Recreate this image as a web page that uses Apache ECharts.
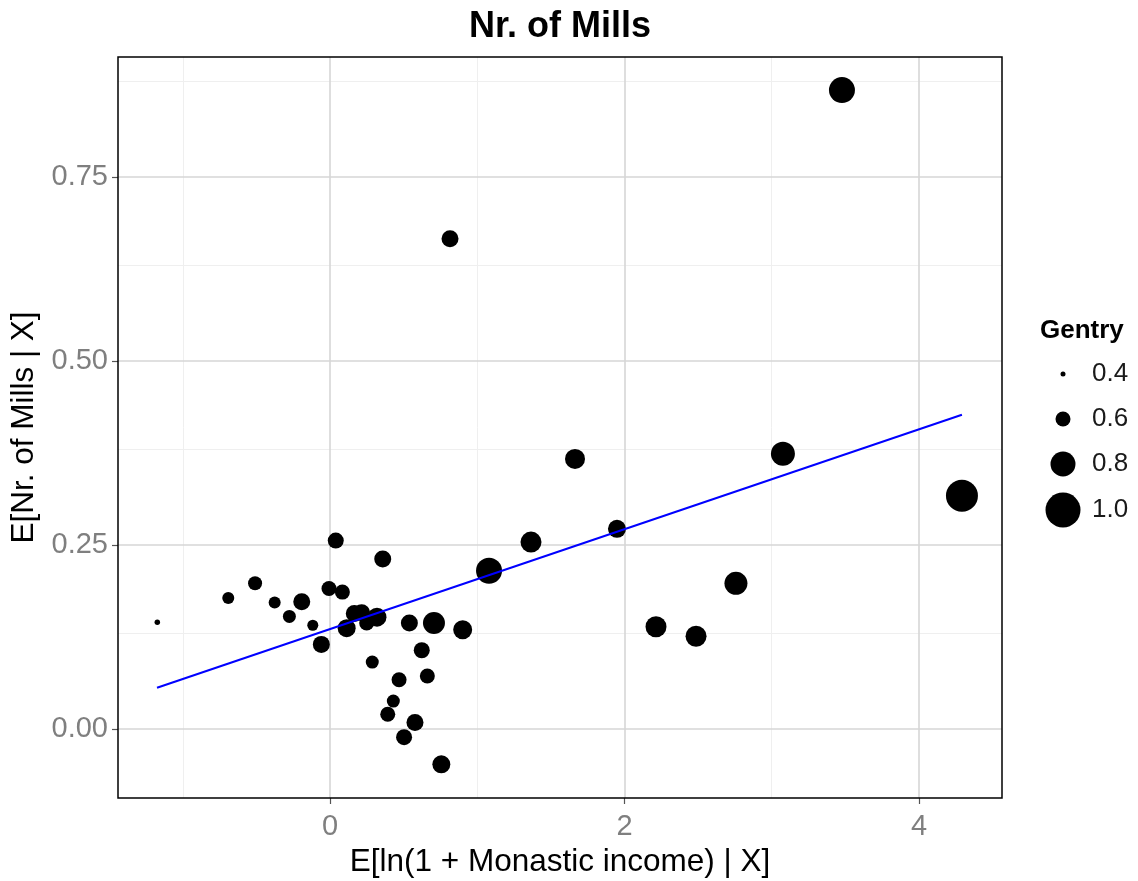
<!DOCTYPE html>
<html>
<head>
<meta charset="utf-8">
<script src="https://cdn.jsdelivr.net/npm/echarts@6/dist/echarts.min.js"></script>
<style>html,body{margin:0;padding:0;background:#fff;}#c{width:1138px;height:881px;}</style>
</head>
<body>
<div id="c"></div>
<script>
const xValues = [-1.173,-0.691,-0.509,-0.376,-0.276,-0.192,-0.117,-0.059,-0.007,0.039,0.084,0.113,0.165,0.215,0.249,0.319,0.358,0.287,0.469,0.392,0.430,0.503,0.539,0.577,0.623,0.661,0.706,0.756,0.815,0.901,1.080,1.365,1.664,1.949,2.214,2.486,2.757,3.076,3.477,4.292];
const yValues = [0.145,0.178,0.198,0.172,0.153,0.173,0.141,0.115,0.191,0.256,0.186,0.137,0.157,0.158,0.144,0.152,0.231,0.091,0.067,0.020,0.038,-0.011,0.144,0.009,0.107,0.072,0.144,-0.048,0.666,0.135,0.215,0.254,0.367,0.272,0.139,0.126,0.198,0.374,0.868,0.317];
const gentry = [0.41,0.54,0.58,0.54,0.56,0.64,0.52,0.64,0.60,0.62,0.60,0.66,0.64,0.64,0.60,0.68,0.64,0.56,0.60,0.60,0.56,0.62,0.64,0.64,0.62,0.60,0.74,0.66,0.64,0.68,0.82,0.72,0.70,0.66,0.72,0.72,0.76,0.78,0.82,0.94];
const fitX = [-1.175, 4.292];
const fitY = [0.056, 0.427];
const xMajor = [0, 2, 4];
const xMinor = [-1, 1, 3];
const yMajor = [0, 0.25, 0.5, 0.75];
const yMinor = [0.125, 0.375, 0.625, 0.875];
const legendValues = [0.4, 0.6, 0.8, 1.0];
const legendLabels = ['0.4', '0.6', '0.8', '1.0'];

const sizeOf = g => 50 * g - 15;
const FONT = '"Liberation Sans", Arial, sans-serif';

const chart = echarts.init(document.getElementById('c'), null, {renderer: 'canvas'});

const gridLines = [];
xMinor.forEach(v => gridLines.push({xAxis: v, lineStyle: {color: '#efefef', width: 1, type: 'solid'}}));
yMinor.forEach(v => gridLines.push({yAxis: v, lineStyle: {color: '#efefef', width: 1, type: 'solid'}}));
xMajor.forEach(v => gridLines.push({xAxis: v, lineStyle: {color: '#d6d6d6', width: 1.6, type: 'solid'}}));
yMajor.forEach(v => gridLines.push({yAxis: v, lineStyle: {color: '#d6d6d6', width: 1.6, type: 'solid'}}));

const legendGraphics = [];
legendGraphics.push({type: 'text', x: 1040, y: 331, style: {text: 'Gentry', font: 'bold 26px ' + FONT, fill: '#000', textVerticalAlign: 'middle'}});
const legendY = [374, 419, 464, 510];
legendValues.forEach((v, i) => {
  legendGraphics.push({type: 'circle', shape: {cx: 1063, cy: legendY[i], r: sizeOf(v) / 2}, style: {fill: '#000'}});
  legendGraphics.push({type: 'text', x: 1092, y: legendY[i], style: {text: legendLabels[i], font: '26px ' + FONT, fill: '#1a1a1a', textVerticalAlign: 'middle', textAlign: 'left'}});
});

chart.setOption({
  animation: false,
  backgroundColor: '#fff',
  grid: {left: 118, right: 136, top: 57, bottom: 83, show: true, borderColor: '#000', borderWidth: 1.5, backgroundColor: 'transparent', z: 10, containLabel: false, outerBoundsMode: 'none'},
  xAxis: {
    type: 'value', min: -1.44, max: 4.564,
    name: 'E[ln(1 + Monastic income) | X]', nameLocation: 'middle', nameGap: 45,
    nameTextStyle: {fontSize: 31.5, color: '#000', fontFamily: FONT},
    axisLine: {show: false, onZero: false},
    axisTick: {show: true, length: 6, lineStyle: {color: '#555', width: 1.2}, customValues: xMajor},
    axisLabel: {fontSize: 29, color: '#7f7f7f', fontFamily: FONT, margin: 14, customValues: xMajor, formatter: v => String(v)},
    splitLine: {show: false}
  },
  yAxis: {
    type: 'value', min: -0.0937, max: 0.913,
    name: 'E[Nr. of Mills | X]', nameLocation: 'middle', nameGap: 75,
    nameTextStyle: {fontSize: 31.5, color: '#000', fontFamily: FONT},
    axisLine: {show: false, onZero: false},
    axisTick: {show: true, length: 6, lineStyle: {color: '#555', width: 1.2}, customValues: yMajor},
    axisLabel: {fontSize: 29, color: '#7f7f7f', fontFamily: FONT, margin: 10, customValues: yMajor, formatter: v => v.toFixed(2)},
    splitLine: {show: false}
  },
  graphic: [
    {type: 'text', x: 560, y: 27, style: {text: 'Nr. of Mills', font: 'bold 36px ' + FONT, fill: '#000', textAlign: 'center', textVerticalAlign: 'middle'}}
  ].concat(legendGraphics),
  series: [
    {
      type: 'line', data: [], silent: true, z: 1,
      markLine: {silent: true, z: 1, symbol: 'none', label: {show: false}, animation: false, data: gridLines}
    },
    {
      type: 'scatter', z: 3,
      data: xValues.map((x, i) => [x, yValues[i], gentry[i]]),
      symbolSize: v => sizeOf(v[2]),
      itemStyle: {color: '#000', opacity: 1}
    },
    {
      type: 'line', z: 4, symbol: 'none',
      data: fitX.map((x, i) => [x, fitY[i]]),
      lineStyle: {color: '#0000ff', width: 2}
    }
  ]
});
</script>
</body>
</html>
